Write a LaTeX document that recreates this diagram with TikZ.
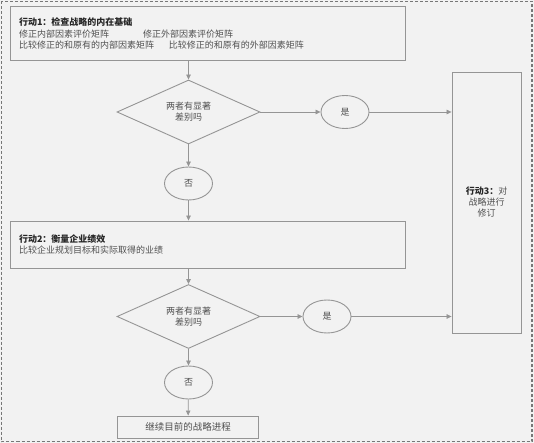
\documentclass[tikz,border=0pt]{standalone}
\usepackage{fontspec}
\setmainfont{Noto Sans CJK SC}
\usepackage{xcolor}
\usetikzlibrary{positioning,shapes.geometric,arrows.meta}
\definecolor{bgcol}{HTML}{F2F2F2}
\definecolor{linecol}{HTML}{959595}
\definecolor{txtcol}{HTML}{505050}

\begin{document}
\begin{tikzpicture}[x=1pt, y=-1pt,
    every node/.style={draw=linecol, line width=0.9pt, text=txtcol, align=center, font=\fontsize{9}{11}\selectfont},
    action/.style={rectangle, minimum width=395pt, minimum height=54pt, text width=377pt, align=left, font=\fontsize{9}{11.5}\selectfont},
    decision/.style={diamond, aspect=2.23, inner sep=0pt, minimum width=143pt, minimum height=64pt},
    answer/.style={ellipse, inner sep=0pt, minimum width=48pt, minimum height=33pt},
    flow/.style={draw=linecol, line width=0.7pt, -{Triangle[length=5pt,width=4.5pt]}}
]
\useasboundingbox[fill=bgcol] (0,0) rectangle (534,443);
\draw[draw=linecol!80!black, line width=1.4pt, dash pattern=on 3pt off 2pt] (1.5,1.5) rectangle (532,441.5);

\node[action] (act1) at (207.5,33.5) {\textbf{\color{black!85}行动1：检查战略的内在基础}\\
    修正内部因素评价矩阵\hspace{34pt}修正外部因素评价矩阵\\
    比较修正的和原有的内部因素矩阵\hspace{15pt}比较修正的和原有的外部因素矩阵};
\node[decision] (chk1) at (188.5,112) {两者有显著\\差别吗};
\node[answer] (yes1) at (345,112) {是};
\node[answer] (no1) at (188.5,183.5) {否};

\node[action, minimum height=47pt] (act2) at (207.5,244.5) {\textbf{\color{black!85}行动2：衡量企业绩效}\\
    比较企业规划目标和实际取得的业绩};
\node[decision] (chk2) at (188.5,316.5) {两者有显著\\差别吗};
\node[answer] (yes2) at (327,316.5) {是};
\node[answer] (no2) at (188.5,382.5) {否};
\node[rectangle, minimum width=141pt, minimum height=22pt, inner sep=0pt, font=\fontsize{9.5}{11}\selectfont] (keep) at (188,427) {继续目前的战略进程};

\node[rectangle, minimum width=69pt, minimum height=261pt, text width=50pt] (act3) at (486.5,202.5) {\textbf{\color{black!85}行动3：}对\\战略进行\\修订};

\draw[flow] (act1.south -| chk1) -- (chk1.north);
\draw[flow] (chk1) -- (yes1);
\draw[flow] (yes1) -- (yes1 -| act3.west);
\draw[flow] (chk1) -- (no1);
\draw[flow] (no1) -- (no1 |- act2.north);
\draw[flow] (act2.south -| chk2) -- (chk2.north);
\draw[flow] (chk2) -- (yes2);
\draw[flow] (yes2) -- (yes2 -| act3.west);
\draw[flow] (chk2) -- (no2);
\draw[flow] (no2) -- (keep);
\end{tikzpicture}
\end{document}
